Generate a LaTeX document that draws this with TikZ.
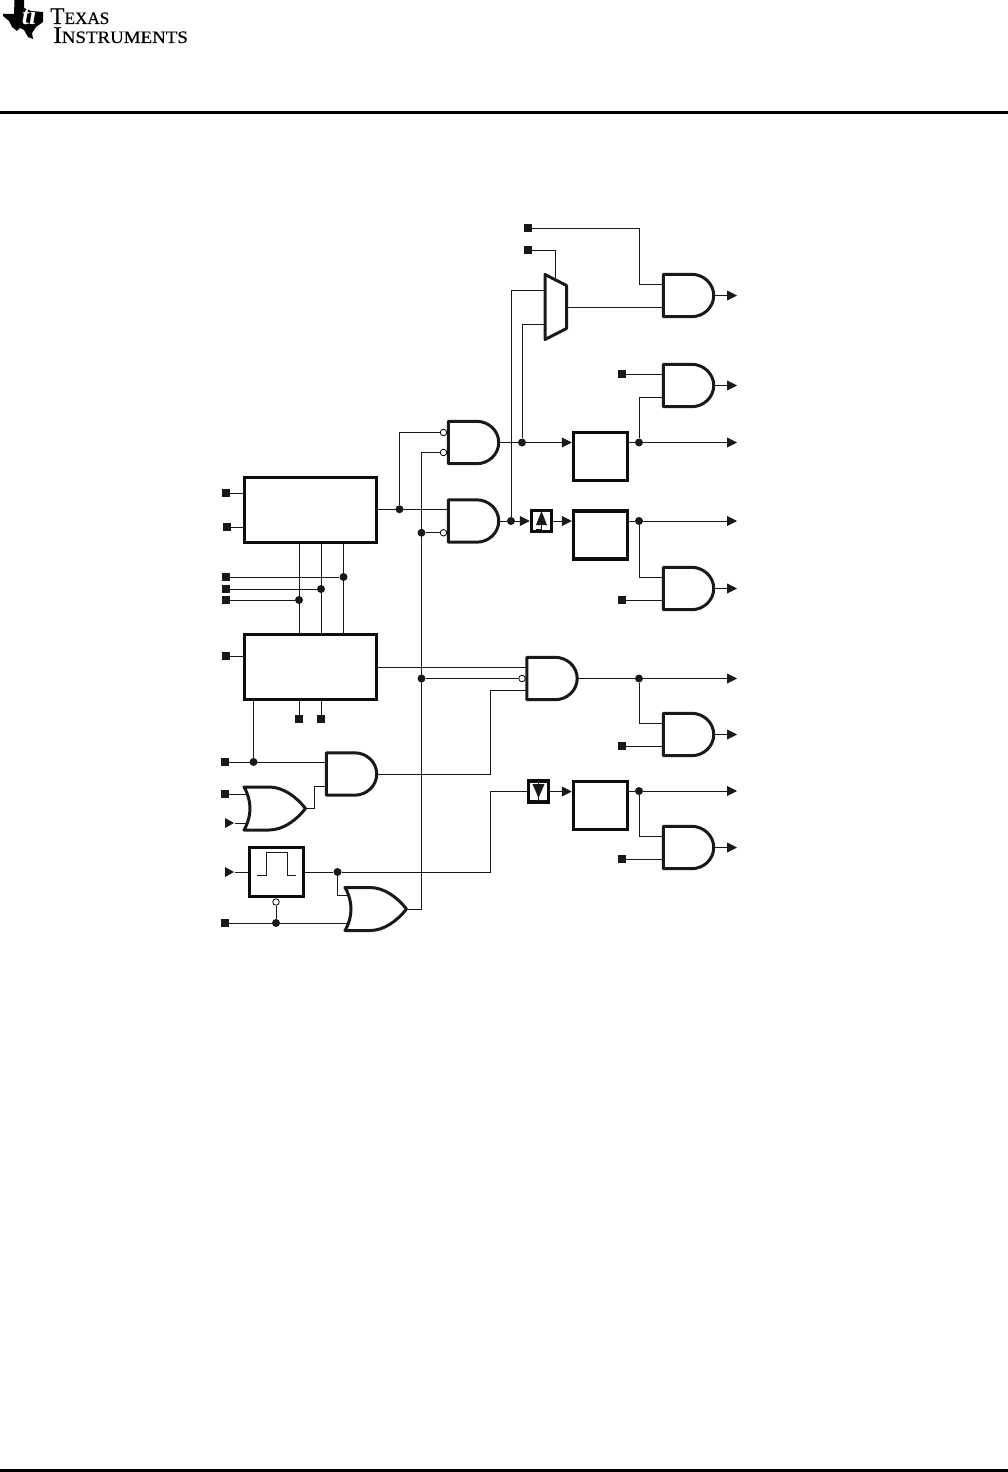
\documentclass[tikz,border=0pt]{standalone}
\usepackage{fontspec}
\setmainfont{Liberation Serif}
\newfontfamily\logofont[FakeBold=0.5]{Liberation Serif}
\usetikzlibrary{arrows.meta, shapes.geometric}
\tikzset{
    wire/.style={line width=0.9pt, black!90},
    arr/.style={wire, -{Triangle[length=10pt, width=10pt]}},
    block/.style={draw, line width=3.5pt, black!95, minimum width=54pt, minimum height=48pt, inner sep=0pt},
    gate/.style={line width=3pt, black!90, line join=round},
    term/.style={fill=black!90, minimum size=8.5pt, inner sep=0pt},
    dot/.style={circle, fill=black!90, minimum size=8pt, inner sep=0pt},
    bubble/.style={circle, draw, fill=white, line width=0.8pt, minimum size=6.5pt, inner sep=0pt},
    tri/.style={isosceles triangle, fill=black!90, minimum height=9pt, minimum width=10pt, inner sep=0pt, isosceles triangle stretches},
    pics/andshape/.style={code={
        \draw[gate] (-25.2,-21.2) -- (3,-21.2) .. controls (15,-21.2) and (25.2,-12) .. (25.2,0)
            .. controls (25.2,12) and (15,21.2) .. (3,21.2) -- (-25.2,21.2) -- cycle;
        \coordinate (-a) at (-25.2,-#1/2);
        \coordinate (-b) at (-25.2,#1/2);
        \coordinate (-m) at (-25.2,0);
        \coordinate (-o) at (26,0);
    }},
    pics/orshape/.style={code={
        \draw[gate] (-31,-21.5) .. controls (-23,-8) and (-23,8) .. (-31,21.5) -- (-6,21.5)
            .. controls (8,21.5) and (21,12) .. (30.5,0) .. controls (21,-12) and (8,-21.5) .. (-6,-21.5) -- cycle;
        \coordinate (-a) at (-27.5,-#1/2);
        \coordinate (-b) at (-27.5,#1/2);
        \coordinate (-o) at (31,0);
    }},
}
\begin{document}
\begin{tikzpicture}[x=1pt, y=-1pt]
    \useasboundingbox (0,0) rectangle (1008,1472);

    % Header and footer rules
    \fill (0,111) rectangle (1008,114);
    \fill (0,1469) rectangle (1008,1472);

    % Logo
    \fill (14.5,0) -- (24,0) -- (24,8) -- (31,11) -- (43,12) -- (43,22) -- (36,27) -- (32,33) -- (33,39)
        -- (28,37) -- (24,30) -- (20,28) -- (17,31) -- (12,27) -- (9,21) -- (3,16) -- (3,14) -- (14,14) -- cycle;
    \node[white, font=\fontsize{26}{26}\selectfont\bfseries\itshape, inner sep=0pt] (logoti) at (29,16) {ti};
    \node[anchor=base west, inner sep=0pt, xscale=0.98, transform shape] (logotexas) at (50,24)
        {\logofont\fontsize{24}{24}\selectfont T\fontsize{17.5}{18}\selectfont EXAS};
    \node[anchor=base west, inner sep=0pt, xscale=1.08, transform shape] (logoinst) at (53,43)
        {\logofont\fontsize{24}{24}\selectfont I\fontsize{17.5}{18}\selectfont NSTRUMENTS};

    % Blocks
    \node[block, minimum width=132pt, minimum height=65pt] (ctla) at (310.5,510) {};
    \node[block, minimum width=132pt, minimum height=65pt] (ctlb) at (310.5,667) {};
    \node[block, minimum height=49pt] (pulse) at (276.5,872) {};
    \node[block] (rega) at (600.5,456.5) {};
    \node[block] (regb) at (600.5,535) {};
    \node[block] (regc) at (600.5,805.5) {};
    \node[block, minimum width=20pt, minimum height=21pt] (dlya) at (541.5,521) {};
    \node[block, minimum width=20pt, minimum height=21pt] (dlyb) at (538.5,791.5) {};

    % Pulse and delay symbols
    \draw[wire] ([shift={(-19.5,3)}]pulse.center) -- ++(9,0) -- ++(0,-23) -- ++(21.5,0) -- ++(0,23) -- ++(8,0);
    \fill[black!90] ([shift={(-5.5,4)}]dlya.center) -- ++(11,0) -- ++(-5.5,-14) -- cycle;
    \draw[wire] ([shift={(-5.5,8)}]dlya.center) -- ++(5.5,0) -- ++(0,-18) -- ++(6,0);
    \fill[black!90] ([shift={(-6,-7.5)}]dlyb.center) -- ++(12,0) -- ++(-6,14) -- cycle;
    \draw[wire] ([shift={(-6.5,-9.5)}]dlyb.center) -- ++(6.5,0) -- ++(0,18) -- ++(6.5,0);

    % Mux
    \draw[gate] (545,274.5) -- (566.5,285.5) -- (566.5,328.5) -- (545,339.5) -- cycle;
    \coordinate (muxa) at (545,290);
    \coordinate (muxb) at (545,324);
    \coordinate (muxout) at (566.5,307);
    \coordinate (muxsel) at (555,280);

    % Gates
    \foreach \name/\y in {outa/295.5, outb/385.5, outc/588.5, outd/734.5, oute/847.5}
        \pic (\name) at (688.5,\y) {andshape=23};
    \pic (anda) at (473.5,442.5) {andshape=20};
    \pic (andb) at (473.5,521) {andshape=23.5};
    \pic (andc) at (552,678.5) {andshape=23};
    \pic (andd) at (351.5,774) {andshape=24};
    \pic (ore) at (275,808.5) {orshape=29};
    \pic (orf) at (376,909) {orshape=28};

    % Inverted inputs
    \node[bubble] (naa) at ([xshift=-4.8pt]anda-a) {};
    \node[bubble] (nab) at ([xshift=-4.8pt]anda-b) {};
    \node[bubble] (nbb) at ([xshift=-4.8pt]andb-b) {};
    \node[bubble] (ncm) at ([xshift=-4.8pt]andc-m) {};
    \node[bubble] (npul) at (276,902) {};

    % Terminals
    \foreach \name/\x/\y in {tsel/528/228, tmux/528/250, tb/622/374, tc/622/600, td/622/746, te/622/859,
        tca/226/493, tcb/227/527, tp/226/577, tq/226/589, tr/226/600, tcc/226/656,
        tu/299/719, tv/321/719, tw/225/762, tx/225/794, ty/225/923}
        \node[term] (\name) at (\x,\y) {};
    \foreach \name/\y in {trie/823, trip/872}
        \node[tri] (\name) at (228,\y) {};

    % Junctions
    \foreach \name/\x/\y in {jp/343.5/577, jq/321/589, jr/299/600, jw/253.5/762, jout/399.5/509.25,
        jna/421.5/532.75, jnb/421.5/678.5, jpul/337.5/872, jy/276/923, jaa/522/442.5, jab/511/521,
        jra/639/442.5, jrb/639/521, jac/639/678.5, jrc/639/791}
        \node[dot] (\name) at (\x,\y) {};

    % Control blocks
    \draw[wire] (tca) -- (tca -| ctla.west);
    \draw[wire] (tcb) -- (tcb -| ctla.west);
    \draw[wire] (tcc) -- (tcc -| ctlb.west);
    \draw[wire] (tp) -- (jp);
    \draw[wire] (tq) -- (jq);
    \draw[wire] (tr) -- (jr);
    \foreach \j in {jp, jq, jr}
        \draw[wire] (\j |- ctla.south) -- (\j |- ctlb.north);
    \draw[wire] (tu) -- (tu |- ctlb.south);
    \draw[wire] (tv) -- (tv |- ctlb.south);
    \draw[wire] (jw |- ctlb.south) -- (jw);

    % Lower left logic
    \draw[wire] (tw) -- (andd-a);
    \draw[wire] (tx) -- (ore-a);
    \draw[wire] (trie) -- (ore-b);
    \draw[wire] (ore-o) -- ++(8,0) |- (andd-b);
    \draw[wire] (trip) -- (pulse.west);
    \draw[wire] (pulse.east) -- (jpul);
    \draw[wire] (jpul) |- (orf-a);
    \draw[wire] (npul) -- (jy);
    \draw[wire] (ty) -- (orf-b);
    \draw[wire] (orf-o) -| (nab -| jna) -- (nab);
    \draw[wire] (jna) -- (nbb);
    \draw[wire] (jnb) -- (ncm);
    \draw[wire] (ctlb.east |- andc-a) -- (andc-a);
    \draw[wire] (andd-o) -- (490,774) |- (andc-b);
    \draw[wire] (jpul) -- (490,872) |- (dlyb.west);

    % Upper logic
    \draw[wire] (ctla.east |- andb-a) -- (andb-a);
    \draw[wire] (jout) |- (naa);
    \draw[wire] (anda-o) -- (jaa);
    \draw[arr] (jaa) -- (jaa -| rega.west);
    \draw[wire] (jaa) |- (muxb);
    \draw[wire] (andb-o) -- (jab);
    \draw[arr] (jab) -- (dlya.west);
    \draw[wire] (jab) |- (muxa);
    \draw[arr] (dlya.east) -- (dlya.east -| regb.west);
    \draw[arr] (dlyb.east) -- (dlyb.east -| regc.west);
    \draw[wire] (tsel) -| (outa-a -| jra) -- (outa-a);
    \draw[wire] (tmux) -| (muxsel);
    \draw[wire] (muxout) -- (outa-b);

    % Output side
    \draw[wire] (tb) -- (outb-a);
    \draw[wire] (tc) -- (outc-b);
    \draw[wire] (td) -- (outd-b);
    \draw[wire] (te) -- (oute-b);
    \draw[wire] (jra -| rega.east) -- (jra);
    \draw[wire] (jrb -| regb.east) -- (jrb);
    \draw[wire] (jrc -| regc.east) -- (jrc);
    \draw[wire] (andc-o) -- (jac);
    \draw[wire] (jra) |- (outb-b);
    \draw[wire] (jrb) |- (outc-a);
    \draw[wire] (jac) |- (outd-a);
    \draw[wire] (jrc) |- (oute-a);
    \foreach \j in {jra, jrb, jac, jrc}
        \draw[arr] (\j) -- (\j -| 737,0);
    \foreach \g in {outa, outb, outc, outd, oute}
        \draw[arr] (\g-o) -- (\g-o -| 737,0);
\end{tikzpicture}
\end{document}
